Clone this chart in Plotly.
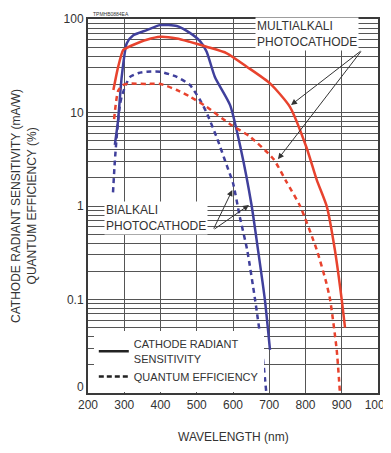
import plotly.graph_objects as go

# ---------------- data ----------------
bi_crs_wl = [274, 283, 293, 307, 325, 362, 399, 445, 481, 509, 527, 550, 592, 622, 651, 669, 688, 702]
bi_crs = [4.5, 8.3, 24, 55, 67, 76, 86, 84, 71, 58, 45, 24, 12, 4.0, 1.03, 0.34, 0.099, 0.029]

bi_qe_wl = [269, 274, 280, 288, 293, 305, 316, 340, 362, 399, 445, 481, 509, 527, 556, 583, 600, 619, 639, 661, 680, 692]
bi_qe = [1.4, 3.0, 6.0, 12, 14.8, 20, 24, 26.5, 27.3, 27.3, 24, 19.7, 13.6, 10, 5.3, 2.7, 1.76, 0.76, 0.34, 0.099, 0.029, 0.01]

ma_crs_wl = [270, 283, 297, 307, 324, 362, 399, 445, 481, 527, 583, 638, 702, 757, 803, 831, 859, 881, 900, 909]
ma_crs = [17.4, 30.6, 46.6, 49, 52.7, 60, 64.6, 62, 57, 50.5, 43, 30.9, 20.5, 11.5, 4.2, 1.9, 0.98, 0.34, 0.099, 0.05]

ma_qe_wl = [272, 283, 295, 310, 362, 399, 445, 481, 527, 592, 647, 711, 748, 785, 831, 858, 868, 886, 895]
ma_qe = [8.5, 17, 19.5, 20.3, 20.2, 20.2, 17.4, 14.8, 11.5, 7.5, 5.5, 3.2, 1.8, 1.0, 0.34, 0.148, 0.099, 0.029, 0.01]

x_ticks = [200, 300, 400, 500, 600, 700, 800, 900, 1000]
y_decades = [0.01, 0.1, 1, 10, 100]
y_decade_labels = ["0", "0.1", "1", "10", "100"]

RED = "#e8432e"
BLUE = "#40409c"
TXT = "#333333"
GRID = "#555555"
FONT = "Liberation Sans, Arial, sans-serif"

# tick values with gridlines at every 1..9 per decade (bottom label "0" is placed separately)
yvals, ytext = [], []
for i, (d, lab) in enumerate(zip(y_decades, y_decade_labels)):
    for k in range(1, 10):
        v = d * k
        if v > 100.0001:
            break
        yvals.append(v)
        ytext.append(lab if (k == 1 and i > 0) else "")

SM = 0.6
fig = go.Figure()
fig.add_trace(go.Scatter(x=bi_crs_wl, y=bi_crs, mode="lines",
                         line=dict(color=BLUE, width=2.5, shape="spline", smoothing=SM), showlegend=False))
fig.add_trace(go.Scatter(x=bi_qe_wl, y=bi_qe, mode="lines",
                         line=dict(color=BLUE, width=2.5, dash="5px,4px", shape="spline", smoothing=SM), showlegend=False))
fig.add_trace(go.Scatter(x=ma_crs_wl, y=ma_crs, mode="lines",
                         line=dict(color=RED, width=2.5, shape="spline", smoothing=SM), showlegend=False))
fig.add_trace(go.Scatter(x=ma_qe_wl, y=ma_qe, mode="lines",
                         line=dict(color=RED, width=2.5, dash="5px,4px", shape="spline", smoothing=SM), showlegend=False))

# legend entries
fig.add_trace(go.Scatter(x=[None], y=[None], mode="lines", name="CATHODE RADIANT<br>SENSITIVITY",
                         line=dict(color="#222", width=2.5)))
fig.add_trace(go.Scatter(x=[None], y=[None], mode="lines", name="QUANTUM EFFICIENCY",
                         line=dict(color="#222", width=2.5, dash="5px,3px")))

# the page body has an 8px default margin, so the figure is sized 8px smaller
fig.update_layout(
    width=383, height=445,
    margin=dict(l=80, r=13, t=11, b=60, autoexpand=False),
    paper_bgcolor="white", plot_bgcolor="white",
    font=dict(family=FONT, color=TXT, size=12),
    legend=dict(x=0.02, y=0.004, xanchor="left", yanchor="bottom",
                bgcolor="white", font=dict(size=11, color=TXT),
                tracegroupgap=0, itemwidth=30),
)
fig.update_xaxes(range=[200, 1000], tickvals=x_ticks, ticks="", automargin=False,
                 ticklabeloverflow="allow",
                 showgrid=True, gridcolor=GRID, gridwidth=1.2,
                 showline=True, linecolor="#3a3a3a", linewidth=2, mirror=True,
                 zeroline=False, tickfont=dict(size=12, color=TXT))
fig.update_yaxes(type="log", range=[-2, 2], tickvals=yvals, ticktext=ytext, ticks="", automargin=False,
                 ticklabeloverflow="allow",
                 showgrid=True, gridcolor=GRID, gridwidth=1.2,
                 showline=True, linecolor="#3a3a3a", linewidth=2, mirror=True,
                 zeroline=False, tickfont=dict(size=12, color=TXT))

ann = []
# bottom y label "0", sitting just above the x axis as in the reference
ann.append(dict(text=y_decade_labels[0], xref="paper", yref="paper", x=0, y=0,
                xanchor="right", yanchor="bottom", xshift=-2, yshift=-3, showarrow=False,
                font=dict(size=12, color=TXT)))
# axis titles
ann.append(dict(text="CATHODE RADIANT SENSITIVITY (mA/W)<br>QUANTUM EFFICIENCY (%)",
                xref="paper", yref="paper", x=-0.221, y=0.5, textangle=-90,
                showarrow=False, font=dict(size=12, color=TXT), xanchor="center", yanchor="middle"))
ann.append(dict(text="WAVELENGTH (nm)", xref="paper", yref="paper", x=0.5, y=-0.118,
                showarrow=False, font=dict(size=12, color=TXT), xanchor="center", yanchor="middle"))
ann.append(dict(text="TPMHB0884EA", xref="paper", yref="paper", x=0.01, y=1.0,
                xanchor="left", yanchor="bottom", showarrow=False, font=dict(size=5, color=TXT)))
# curve labels
ann.append(dict(text="MULTIALKALI<br>PHOTOCATHODE", xref="x", yref="y", x=662, y=1.84,
                xanchor="left", yanchor="middle", align="left", showarrow=False,
                bgcolor="white", borderpad=1, font=dict(size=12, color=TXT)))
ann.append(dict(text="BIALKALI<br>PHOTOCATHODE", xref="x", yref="y", x=244, y=-0.128,
                xanchor="left", yanchor="middle", align="left", showarrow=False,
                bgcolor="white", borderpad=1, font=dict(size=12, color=TXT)))
# arrows
for tip, tail in [((760, 1.08), (956, 1.668)), ((724, 0.5), (956, 1.668)),
                  ((598, 0.17), (545, -0.257)), ((644, 0.01), (545, -0.257))]:
    ann.append(dict(text="", x=tip[0], y=tip[1], ax=tail[0], ay=tail[1],
                    xref="x", yref="y", axref="x", ayref="y", showarrow=True,
                    arrowhead=2, arrowsize=1.2, arrowwidth=1, arrowcolor="#333"))
fig.update_layout(annotations=ann)

fig.write_html("out.html")
